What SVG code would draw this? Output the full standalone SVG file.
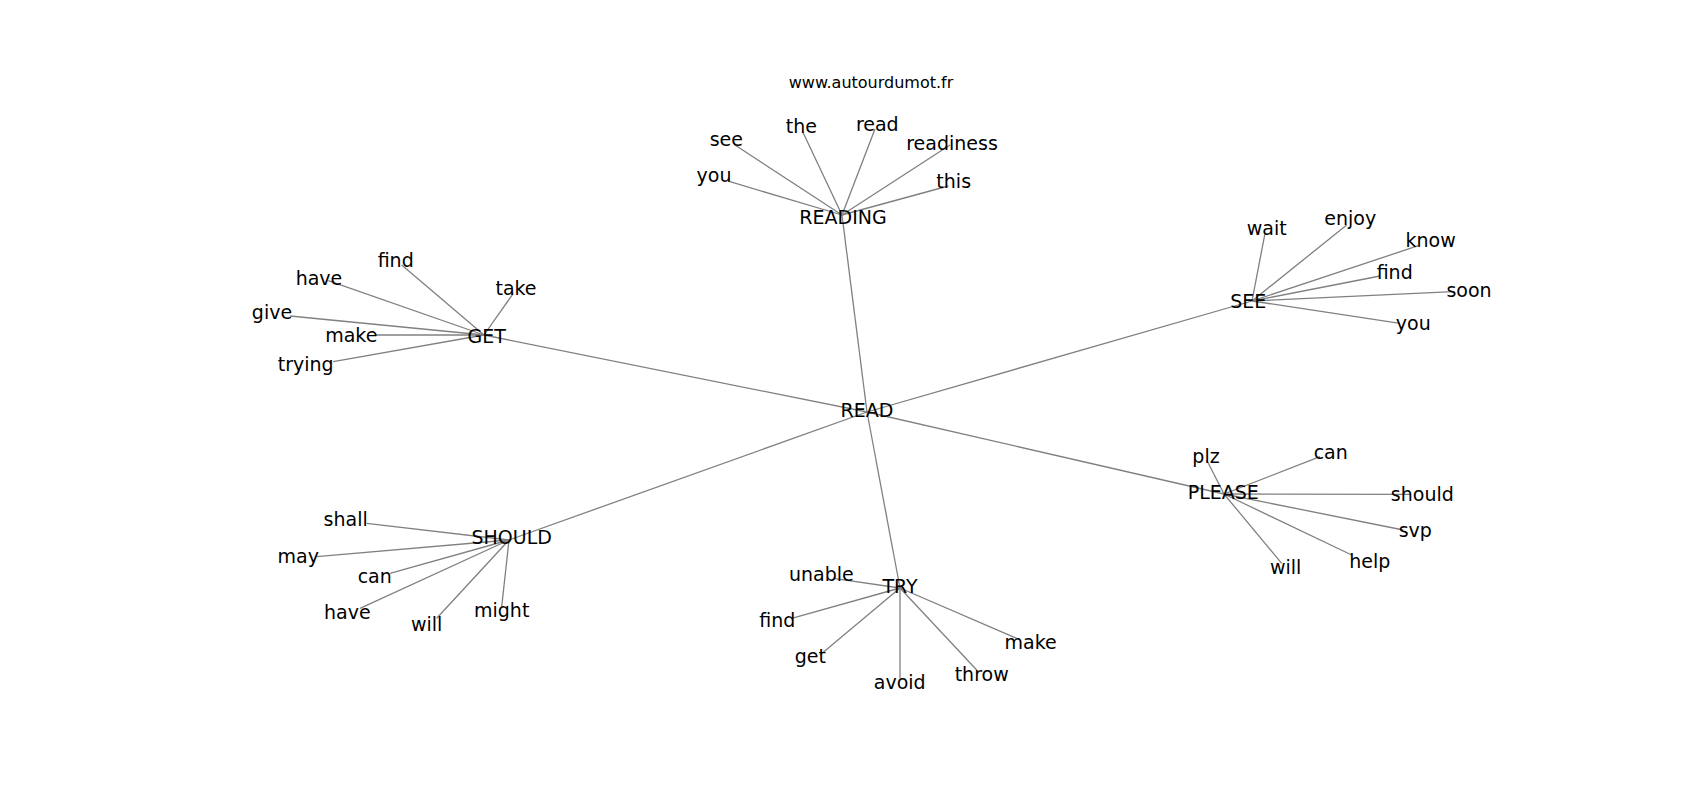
<svg xmlns="http://www.w3.org/2000/svg" width="1700" height="800" viewBox="0 0 1700 800">
<style>
.e{stroke:#808080;stroke-width:1.3;fill:none}
text{font-family:"DejaVu Sans",sans-serif;font-size:19px;fill:#000;text-anchor:middle}
.t{font-size:16px}
</style>
<rect width="1700" height="800" fill="#fff"/>
<text class="t" x="871" y="88">www.autourdumot.fr</text>
<g id="edges">
<line class="e" x1="867" y1="412" x2="842" y2="215"/>
<line class="e" x1="867" y1="412" x2="484" y2="335"/>
<line class="e" x1="867" y1="412" x2="1252" y2="301"/>
<line class="e" x1="867" y1="412" x2="1224" y2="494"/>
<line class="e" x1="867" y1="412" x2="509" y2="540"/>
<line class="e" x1="867" y1="412" x2="900" y2="588"/>
<line class="e" x1="842" y1="215" x2="735" y2="145"/>
<line class="e" x1="842" y1="215" x2="802.7" y2="131.7"/>
<line class="e" x1="842" y1="215" x2="875" y2="129"/>
<line class="e" x1="842" y1="215" x2="950" y2="145"/>
<line class="e" x1="842" y1="215" x2="730" y2="181.7"/>
<line class="e" x1="842" y1="215" x2="948.3" y2="186"/>
<line class="e" x1="484" y1="335" x2="401.7" y2="265"/>
<line class="e" x1="484" y1="335" x2="328.3" y2="280.7"/>
<line class="e" x1="484" y1="335" x2="513.3" y2="293.3"/>
<line class="e" x1="484" y1="335" x2="290" y2="316"/>
<line class="e" x1="484" y1="335" x2="375" y2="335"/>
<line class="e" x1="484" y1="335" x2="333.3" y2="361.7"/>
<line class="e" x1="1252" y1="301" x2="1265" y2="233.3"/>
<line class="e" x1="1252" y1="301" x2="1346.7" y2="225"/>
<line class="e" x1="1252" y1="301" x2="1418.3" y2="245.7"/>
<line class="e" x1="1252" y1="301" x2="1380" y2="276"/>
<line class="e" x1="1252" y1="301" x2="1453.3" y2="291.7"/>
<line class="e" x1="1252" y1="301" x2="1400" y2="323.3"/>
<line class="e" x1="1224" y1="494" x2="1206.7" y2="460"/>
<line class="e" x1="1224" y1="494" x2="1320" y2="456.7"/>
<line class="e" x1="1224" y1="494" x2="1410" y2="494.3"/>
<line class="e" x1="1224" y1="494" x2="1403.3" y2="530"/>
<line class="e" x1="1224" y1="494" x2="1351.7" y2="555"/>
<line class="e" x1="1224" y1="494" x2="1281.7" y2="563.3"/>
<line class="e" x1="509" y1="540" x2="366.7" y2="523.3"/>
<line class="e" x1="509" y1="540" x2="316.7" y2="556.7"/>
<line class="e" x1="509" y1="540" x2="390" y2="573.3"/>
<line class="e" x1="509" y1="540" x2="360" y2="608.3"/>
<line class="e" x1="509" y1="540" x2="436.7" y2="618.3"/>
<line class="e" x1="509" y1="540" x2="501.7" y2="606.7"/>
<line class="e" x1="900" y1="588" x2="833.3" y2="578.3"/>
<line class="e" x1="900" y1="588" x2="791.7" y2="618.3"/>
<line class="e" x1="900" y1="588" x2="820" y2="655"/>
<line class="e" x1="900" y1="588" x2="900" y2="678.3"/>
<line class="e" x1="900" y1="588" x2="976.7" y2="670"/>
<line class="e" x1="900" y1="588" x2="1016.7" y2="638.3"/>
</g>
<g id="READ"><text x="867" y="416.7">READ</text></g>
<g id="READING"><text x="843" y="224">READING</text></g>
<g id="GET"><text x="486.7" y="342.7">GET</text></g>
<g id="SEE"><text x="1248.3" y="308.3">SEE</text></g>
<g id="PLEASE"><text x="1223.3" y="499.3">PLEASE</text></g>
<g id="SHOULD"><text x="511.7" y="544.3">SHOULD</text></g>
<g id="TRY"><text x="900" y="593.3">TRY</text></g>
<g id="reading-leaves">
<text x="726.3" y="146">see</text>
<text x="801.3" y="132.7">the</text>
<text x="877.3" y="131">read</text>
<text x="952" y="150">readiness</text>
<text x="714" y="182.3">you</text>
<text x="953.7" y="188.3">this</text>
</g>
<g id="get-leaves">
<text x="395.7" y="266.7">find</text>
<text x="319" y="285">have</text>
<text x="516" y="295">take</text>
<text x="272" y="319.3">give</text>
<text x="351.3" y="341.7">make</text>
<text x="305.7" y="370.7">trying</text>
</g>
<g id="see-leaves">
<text x="1266.7" y="235">wait</text>
<text x="1350.3" y="225">enjoy</text>
<text x="1430.7" y="246.7">know</text>
<text x="1394.7" y="279.3">find</text>
<text x="1469" y="296.7">soon</text>
<text x="1413.3" y="330">you</text>
</g>
<g id="please-leaves">
<text x="1206" y="462.7">plz</text>
<text x="1330.7" y="459.3">can</text>
<text x="1422.3" y="501">should</text>
<text x="1415.3" y="536.7">svp</text>
<text x="1369.7" y="567.7">help</text>
<text x="1285.7" y="574.3">will</text>
</g>
<g id="should-leaves">
<text x="345.7" y="526">shall</text>
<text x="298.3" y="563.3">may</text>
<text x="374.7" y="582.7">can</text>
<text x="347.3" y="619.3">have</text>
<text x="426.7" y="631">will</text>
<text x="501.7" y="616.7">might</text>
</g>
<g id="try-leaves">
<text x="821.3" y="581">unable</text>
<text x="777.3" y="627.3">find</text>
<text x="810.3" y="663.3">get</text>
<text x="899.7" y="689.3">avoid</text>
<text x="981.7" y="680.7">throw</text>
<text x="1030.7" y="649.3">make</text>
</g>
</svg>
